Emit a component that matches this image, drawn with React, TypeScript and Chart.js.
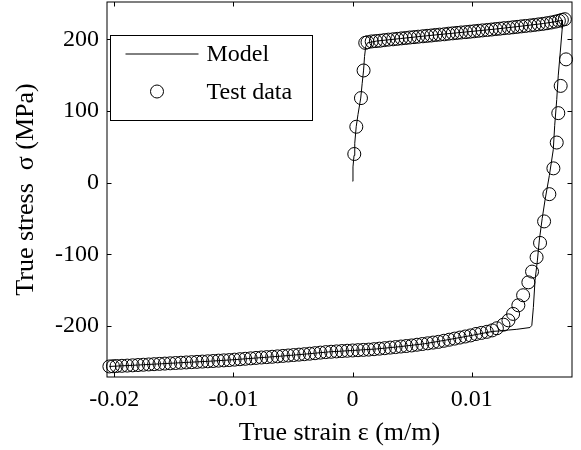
import React, { useEffect, useRef } from 'react';
import { Chart, registerables } from 'chart.js';

Chart.register(...registerables);

// ---- data ----
const xTicks = [-0.02, -0.01, 0, 0.01];
const xTickLabels = ['-0.02', '-0.01', '0', '0.01'];
const yTicks = [-200, -100, 0, 100, 200];
const yTickLabels = ['-200', '-100', '0', '100', '200'];

const seriesNames = ['Model', 'Test data'];
const xTitle = 'True strain \u03b5 (m/m)';
const yTitle = 'True stress  \u03c3 (MPa)';

// Model (simulated) curve
const modelStrain = [
  0.0, 0.00003, 0.00012, 0.00018, 0.0003, 0.00045, 0.00068, 0.0008, 0.00092, 0.001, 0.0011, 0.00125,
  0.002, 0.004, 0.006, 0.008, 0.01, 0.012, 0.014, 0.016, 0.017, 0.0176,
  0.01758, 0.01741, 0.01725, 0.01712, 0.01695, 0.01683, 0.0165, 0.01614, 0.0159, 0.01566, 0.0155,
  0.0153, 0.01516, 0.01503, 0.01488, 0.01377, 0.01307, 0.0125, 0.0117, 0.01,
  0.008, 0.006, 0.004, 0.002, 0.0, -0.002, -0.004, -0.006, -0.008, -0.01, -0.012, -0.014,
  -0.016, -0.018, -0.0204,
];
const modelStress = [
  2, 22, 38, 55, 78, 95, 118, 138, 157, 176, 190, 195,
  197.5, 201, 204.5, 207.8, 211, 214.3, 218, 222, 224.5, 226.5,
  215, 181, 150, 116, 80, 46, 10, -24, -50, -80, -108,
  -136, -174, -199, -202, -204.5, -205.5, -206.5, -207.5, -213,
  -219, -224.7, -228.6, -231.9, -234, -236, -239.1, -241.9, -244.4, -246.9, -249, -250.7,
  -252.5, -254.3, -256.3,
];

// Test data (circles)
const testStrain = [
  // initial loading
  0.00014, 0.00031, 0.0007, 0.00092, 0.00106,
  // upper plateau
  0.00125, 0.0016, 0.00195, 0.0023, 0.00265, 0.003, 0.0034, 0.00375, 0.0041, 0.00445,
  0.0048, 0.00515, 0.0055, 0.0059, 0.00625, 0.0066, 0.00695, 0.0073, 0.0077, 0.00805,
  0.0084, 0.00875, 0.0091, 0.0095, 0.00985, 0.0102, 0.01055, 0.0109, 0.0113, 0.01165,
  0.012, 0.01235, 0.0127, 0.0131, 0.01345, 0.0138, 0.01415, 0.0145, 0.0149, 0.01525,
  0.0156, 0.01595, 0.0163, 0.01665, 0.017, 0.0173, 0.01755, 0.0178,
  // unloading / reverse loading
  0.0179, 0.01745, 0.01725, 0.01712, 0.01684, 0.0165, 0.01606, 0.01572, 0.01543, 0.01505,
  0.01474, 0.0143, 0.0139, 0.01346, 0.01307, 0.01265, 0.0121,
  // lower plateau
  0.0117, 0.01126, 0.0108, 0.01035, 0.0099, 0.00945, 0.009, 0.00855, 0.0081, 0.00765,
  0.0072, 0.00675, 0.0063, 0.00585, 0.0054, 0.00495, 0.0045, 0.00405, 0.0036, 0.00315,
  0.0027, 0.00225, 0.0018, 0.00135, 0.0009, 0.00045, 0.0, -0.00045, -0.0009, -0.00135,
  -0.0018, -0.00225, -0.0027, -0.00315, -0.0036, -0.00405, -0.0045, -0.00495, -0.0054, -0.00585,
  -0.0063, -0.00675, -0.0072, -0.00765, -0.0081, -0.00855, -0.009, -0.00945, -0.0099, -0.01035,
  -0.0108, -0.01125, -0.0117, -0.01215, -0.0126, -0.01305, -0.0135, -0.01395, -0.0144, -0.01485,
  -0.0153, -0.01575, -0.0162, -0.01665, -0.0171, -0.01755, -0.018, -0.01845, -0.0189, -0.01935,
  -0.0198, -0.0201, -0.0204,
];
const testStress = [
  40, 78, 118, 156.5, 195,
  196, 197, 197.5, 198, 198.8, 199.5, 200, 200.6, 201.3, 201.8,
  202.5, 203, 203.6, 204.2, 204.8, 205.3, 206, 206.5, 207, 207.8,
  208.3, 208.9, 209.5, 210, 210.6, 211.2, 211.8, 212.4, 213, 213.6,
  214.3, 214.8, 215.5, 216, 216.7, 217.3, 218, 218.6, 219.3, 220,
  220.8, 221.5, 222.4, 223.4, 224.6, 225.8, 227, 228,
  172, 135, 97, 56, 20, -16, -54, -84, -104, -124,
  -139, -157, -171, -183, -192, -198, -203,
  -206, -208, -209.5, -211, -213, -214.5, -216, -217.5, -219, -220.5,
  -222, -223, -224, -225, -226, -227, -227.8, -228.5, -229.3, -230,
  -230.8, -231.5, -232.2, -232.8, -233.2, -233.6, -234, -234.4, -234.8, -235.3,
  -235.8, -236.3, -237, -237.8, -238.5, -239.2, -239.8, -240.4, -241, -241.6,
  -242.2, -242.8, -243.3, -243.8, -244.4, -245, -245.6, -246.2, -246.8, -247.4,
  -247.8, -248.2, -248.7, -249.1, -249.5, -249.9, -250.3, -250.7, -251.1, -251.5,
  -251.9, -252.3, -252.7, -253.1, -253.5, -253.9, -254.3, -254.7, -255.1, -255.4,
  -255.7, -256, -256.3,
];

const FONT_FAMILY = "'Liberation Serif', 'Times New Roman', serif";
const FONT_SIZE = 24;
const TITLE_SIZE = 26;

const framePlugin = {
  id: 'matlabFrame',
  afterDatasetsDraw(chart: any) {
    const { ctx, chartArea: a, scales } = chart;
    ctx.save();
    ctx.strokeStyle = '#000';
    ctx.lineWidth = 1;
    ctx.strokeRect(a.left, a.top, a.right - a.left, a.bottom - a.top);
    const L = 4.5;
    ctx.beginPath();
    xTicks.forEach((v) => {
      const px = Math.round(scales.x.getPixelForValue(v)) + 0.5;
      ctx.moveTo(px, a.bottom);
      ctx.lineTo(px, a.bottom - L);
      ctx.moveTo(px, a.top);
      ctx.lineTo(px, a.top + L);
    });
    yTicks.forEach((v) => {
      const py = Math.round(scales.y.getPixelForValue(v)) + 0.5;
      ctx.moveTo(a.left, py);
      ctx.lineTo(a.left + L, py);
      ctx.moveTo(a.right, py);
      ctx.lineTo(a.right - L, py);
    });
    ctx.stroke();

    // legend box (inside axes, top-left)
    const bx = a.left + 3.5;
    const by = a.top + 33.5;
    const bw = 202;
    const bh = 85;
    ctx.fillStyle = '#fff';
    ctx.fillRect(bx, by, bw, bh);
    ctx.strokeRect(bx, by, bw, bh);
    const ds = chart.data.datasets;
    ctx.beginPath();
    ctx.lineWidth = 1;
    ctx.moveTo(bx + 15, by + 18.5);
    ctx.lineTo(bx + 88, by + 18.5);
    ctx.stroke();
    ctx.beginPath();
    ctx.arc(bx + 46.5, by + 56, 6.5, 0, Math.PI * 2);
    ctx.stroke();
    ctx.fillStyle = '#000';
    ctx.font = `${FONT_SIZE}px ${FONT_FAMILY}`;
    ctx.textBaseline = 'middle';
    ctx.textAlign = 'left';
    ctx.fillText(ds[0].label, bx + 96, by + 19);
    ctx.fillText(ds[1].label, bx + 96, by + 57);
    ctx.restore();
  },
};

export default function App() {
  const canvasRef = useRef<HTMLCanvasElement | null>(null);

  useEffect(() => {
    const canvas = canvasRef.current;
    if (!canvas) return;
    const modelPts = modelStrain.map((x, i) => ({ x, y: modelStress[i] }));
    const testPts = testStrain.map((x, i) => ({ x, y: testStress[i] }));

    const chart = new Chart(canvas, {
      type: 'scatter',
      data: {
        datasets: [
          {
            label: seriesNames[0],
            data: modelPts,
            showLine: true,
            borderColor: '#000',
            borderWidth: 1,
            pointRadius: 0,
            fill: false,
            tension: 0,
          },
          {
            label: seriesNames[1],
            data: testPts,
            showLine: false,
            borderColor: '#000',
            backgroundColor: 'rgba(0,0,0,0)',
            pointRadius: 6.5,
            pointBorderWidth: 1,
            pointStyle: 'circle',
            clip: false,
          } as any,
        ],
      },
      options: {
        responsive: false,
        animation: false,
        devicePixelRatio: 1,
        layout: { autoPadding: false, padding: { top: 2, right: 9, left: 0, bottom: 0 } },
        plugins: {
          legend: { display: false },
          tooltip: { enabled: false },
          title: { display: false },
        },
        scales: {
          x: {
            type: 'linear',
            min: -0.0206,
            max: 0.0184,
            grid: { display: false, drawTicks: false },
            border: { display: false },
            afterBuildTicks: (scale: any) => {
              scale.ticks = xTicks.map((v) => ({ value: v }));
            },
            afterFit: (scale: any) => {
              scale.height = 73;
              scale.paddingLeft = 0;
              scale.paddingRight = 0;
            },
            ticks: {
              color: '#000',
              padding: 8,
              font: { family: FONT_FAMILY, size: FONT_SIZE },
              maxRotation: 0,
              callback: (v: any) => {
                const i = xTicks.indexOf(Number(v));
                return i >= 0 ? xTickLabels[i] : '';
              },
            },
            title: {
              display: true,
              text: xTitle,
              color: '#000',
              font: { family: FONT_FAMILY, size: TITLE_SIZE },
              padding: { top: 0, bottom: 1 },
            },
          },
          y: {
            type: 'linear',
            min: -271,
            max: 252,
            grid: { display: false, drawTicks: false },
            border: { display: false },
            afterBuildTicks: (scale: any) => {
              scale.ticks = yTicks.map((v) => ({ value: v }));
            },
            afterFit: (scale: any) => {
              scale.width = 107;
              scale.paddingTop = 0;
              scale.paddingBottom = 0;
            },
            ticks: {
              color: '#000',
              padding: 8,
              font: { family: FONT_FAMILY, size: FONT_SIZE },
              callback: (v: any) => {
                const i = yTicks.indexOf(Number(v));
                return i >= 0 ? yTickLabels[i] : '';
              },
            },
            title: {
              display: true,
              text: yTitle,
              color: '#000',
              font: { family: FONT_FAMILY, size: TITLE_SIZE },
              padding: { top: 11, bottom: 0 },
            },
          },
        },
      },
      plugins: [framePlugin],
    });
    return () => chart.destroy();
  }, []);

  return (
    <div style={{ position: 'fixed', left: 0, top: 0, width: 581, height: 450, background: '#fff' }}>
      <canvas ref={canvasRef} width={581} height={450} style={{ display: 'block' }} />
    </div>
  );
}
